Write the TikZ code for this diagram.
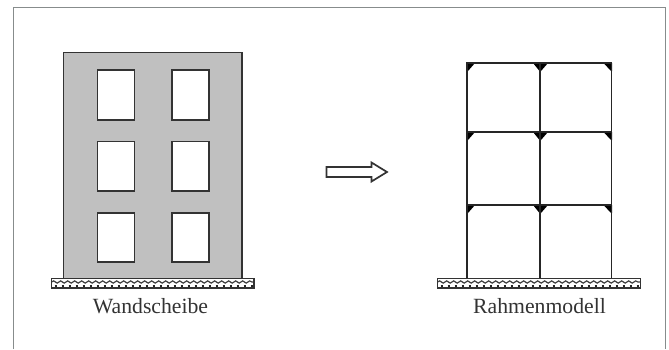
\documentclass[tikz,border=0pt]{standalone}
\usepackage{fontspec}
\setmainfont{Liberation Serif}
\usetikzlibrary{decorations.pathmorphing}
\definecolor{wallgray}{RGB}{192,192,192}
\definecolor{framegray}{RGB}{135,140,140}
\tikzset{
  x=1pt,y=-1pt,
  outline/.style={draw=black!80,line width=1.9pt},
  win/.style={outline,fill=white},
  member/.style={draw=black!85,line width=1.7pt},
  joint/.style={fill=black,draw=none},
  label/.style={font=\fontsize{21.7pt}{24pt}\selectfont,text=black!80,inner sep=0pt,anchor=base},
  wave/.style={draw=black!75,line width=1.2pt,decorate,decoration={snake,amplitude=1.1pt,segment length=7pt}},
}
\newcommand{\groundbase}[2]{%
  \fill[white] (#1,278.5) rectangle (#2,288);
  \draw[wave] (#1,282) -- (#2,282);
  \draw[black!85,line width=2.4pt,dash pattern=on 2pt off 5pt] (#1+3,286) -- (#2,286);
  \draw[outline] (#1,278.5) rectangle (#2,288);
}
\begin{document}
\begin{tikzpicture}
\useasboundingbox (0,0) rectangle (669,349);
\fill[white] (0,0) rectangle (669,349);
% frame
\draw[framegray,line width=0.9pt] (13,349) -- (13,7.5) -- (665,7.5) -- (665,349);
% wall
\draw[outline,fill=wallgray] (63.5,278) -- (63.5,52.5) -- (242,52.5) -- (242,278);
\foreach \xa/\xb in {97.5/134.5,172/209}
  \foreach \ya/\yb in {70/120,141.5/191,213/262}
    \draw[win] (\xa,\ya) rectangle (\xb,\yb);
\groundbase{51.5}{254}
\node[label] (wand) at (150.5,313.5) {Wandscheibe};
% arrow
\draw[outline,line width=1.7pt,fill=white] (326.5,167) -- (371.5,167) -- (371.5,162.5) -- (387,172) -- (371.5,181.5) -- (371.5,177) -- (326.5,177) -- cycle;
% frame model
\foreach \y in {63,132,205} {
  \draw[joint] (466.5,\y) -- (475,\y) -- (468,\y+8) -- (466.5,\y+8) -- cycle;
  \draw[joint] (533,\y) -- (548,\y) -- (541,\y+8) -- (539.5,\y+8) -- cycle;
  \draw[joint] (612,\y) -- (603.5,\y) -- (611,\y+8) -- (612,\y+8) -- cycle;
  \draw[member] (466,\y) -- (612,\y);
}
\foreach \x in {467,540,611.5}
  \draw[member] (\x,62.5) -- (\x,279);
\groundbase{437.5}{640.5}
\node[label] (rahmen) at (539.5,313.5) {Rahmenmodell};
\end{tikzpicture}
\end{document}
